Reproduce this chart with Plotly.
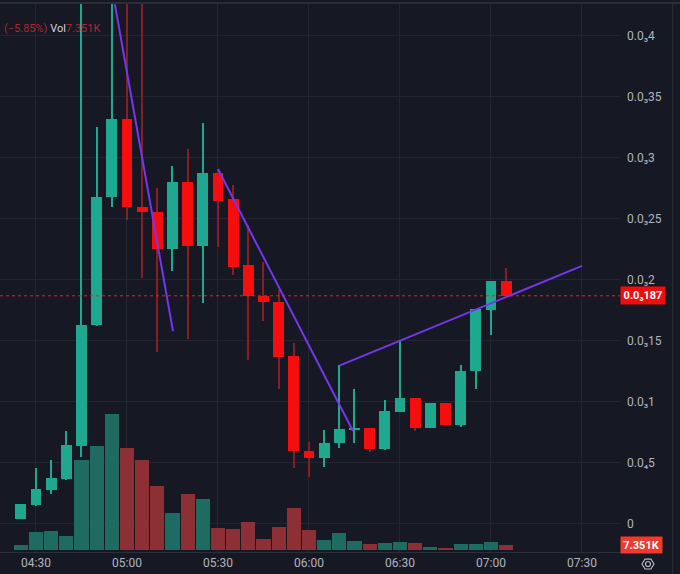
import numpy as np
import plotly.graph_objects as go

# 5 minute candles, prices in units of 0.00001
day = '2024-01-01 '
times = ['04:25', '04:30', '04:35', '04:40', '04:45', '04:50', '04:55', '05:00', '05:05',
         '05:10', '05:15', '05:20', '05:25', '05:30', '05:35', '05:40', '05:45', '05:50',
         '05:55', '06:00', '06:05', '06:10', '06:15', '06:20', '06:25', '06:30', '06:35',
         '06:40', '06:45', '06:50', '06:55', '07:00', '07:05']
opens = [0.41, 1.56, 2.79, 3.69, 6.39, 16.3, 26.8, 33.2, 26.0, 25.6, 22.5, 28.0, 22.8,
         28.8, 26.6, 21.2, 18.7, 18.2, 13.8, 6.0, 5.4, 6.6, 7.7, 7.9, 6.15, 9.2, 10.3,
         7.9, 9.9, 8.1, 12.5, 17.5, 19.9]
highs = [1.64, 4.59, 5.25, 7.62, 44.0, 32.5, 44.0, 44.0, 44.0, 27.5, 29.3, 30.7, 32.9,
         29.1, 27.8, 24.5, 21.5, 19.2, 14.8, 6.7, 7.7, 13.0, 11.1, 7.9, 10.2, 15.0, 10.3,
         9.9, 9.9, 13.0, 17.6, 19.9, 21.0]
lows = [0.41, 1.5, 2.46, 3.6, 5.49, 16.2, 26.0, 24.9, 20.2, 14.1, 20.7, 15.2, 18.1,
        22.7, 20.4, 13.4, 16.6, 11.1, 4.6, 3.85, 4.7, 6.2, 6.6, 5.9, 6.07, 9.2, 7.6,
        7.9, 8.1, 7.95, 11.1, 15.5, 18.7]
closes = [1.64, 2.87, 3.77, 6.48, 16.31, 26.8, 33.2, 26.0, 25.6, 22.5, 28.0, 22.8, 28.8,
          26.5, 21.1, 18.7, 18.2, 13.7, 6.0, 5.4, 6.6, 7.8, 7.9, 6.15, 9.26, 10.3, 7.9,
          9.9, 8.1, 12.5, 17.6, 19.9, 18.7]
volumes_k = [7.4, 26.5, 27.9, 20.6, 132, 153, 200, 150, 132, 94, 54, 82, 75, 32, 31, 41,
             16, 34, 62, 29, 15, 25, 13, 8.8, 10.3, 11.8, 10.3, 4.4, 2.9, 8.8, 8.8, 11.8, 7.351]

# drawn trend lines: (start time, start price, end time, end price)
trend_lines = [('04:56:00', 42.6, '05:15:10', 15.8),
               ('05:30:00', 29.1, '06:14:30', 7.62),
               ('06:10:13', 13.0, '07:30:00', 21.15)]

price_ticks = [0, 5, 10, 15, 20, 25, 30, 35, 40]
price_tick_text = ['0', '0.0₄5', '0.0₃1', '0.0₃15', '0.0₃2', '0.0₃25', '0.0₃3', '0.0₃35', '0.0₃4']
time_ticks = ['04:30', '05:00', '05:30', '06:00', '06:30', '07:00', '07:30']
last_price = 18.7
last_volume = 7.351

scale = 1e-5
GREEN = '#1fa890'
RED = '#f60d0d'
BG = '#161823'
GRID = '#232632'
TXT = '#b2b5be'

x = [day + t for t in times]
o = np.array(opens) * scale
h = np.array(highs) * scale
l = np.array(lows) * scale
c = np.array(closes) * scale
up = c >= o

fig = go.Figure()

# volume (base axis, drawn underneath)
fig.add_trace(go.Bar(x=x, y=volumes_k, width=280000, yaxis='y',
                     marker=dict(color=['#1d6b61' if u else '#8c3036' for u in up], line_width=0),
                     hoverinfo='skip'))

# wicks as very thin bars (about one pixel wide)
fig.add_trace(go.Bar(x=x, y=h - l, base=l, width=20000, yaxis='y2',
                     marker=dict(color=[GREEN if u else '#8a1c22' for u in up], line_width=0),
                     hoverinfo='skip'))

# bodies
fig.add_trace(go.Bar(x=x, y=np.abs(c - o), base=np.minimum(o, c), width=215000, yaxis='y2',
                     marker=dict(color=[GREEN if u else RED for u in up], line_width=0),
                     hoverinfo='skip'))

for t0, p0, t1, p1 in trend_lines:
    fig.add_trace(go.Scatter(x=[day + t0, day + t1], y=[p0 * scale, p1 * scale], mode='lines',
                             yaxis='y2', line=dict(color='#7436ee', width=2), hoverinfo='skip'))

# last price line
fig.add_shape(type='line', xref='paper', x0=0, x1=1, yref='y2',
              y0=last_price * scale, y1=last_price * scale,
              line=dict(color='#d62a2a', width=1, dash='dot'))

fig.add_annotation(xref='paper', x=1.0, xanchor='left', yref='y2', y=last_price * scale,
                   text='<b>0.0₃187</b>', showarrow=False, bgcolor='#f20d0d',
                   font=dict(color='white', size=11), width=42, height=15)
fig.add_annotation(xref='paper', x=1.0, xanchor='left', yref='y', y=last_volume,
                   text='<b>7.351K</b>', showarrow=False, bgcolor='#f2392b',
                   font=dict(color='white', size=11), width=39, height=14)

# legend text, top left
fig.add_annotation(xref='paper', yref='paper', x=0.003, y=0.969, xanchor='left',
                   showarrow=False, font=dict(size=11),
                   text="<span style='color:#b32630'>(−5.85%)</span> "
                        "<span style='color:#d1d4dc'>Vol</span>"
                        "<span style='color:#b32630'>7.351K</span>")

# borders and settings icon
fig.add_shape(type='line', xref='paper', yref='paper', x0=0, x1=1.1, y0=1, y1=1,
              line=dict(color='#2a2e39', width=2))
fig.add_shape(type='line', xref='paper', yref='paper', x0=1.085, x1=1.085, y0=-0.05, y1=1,
              line=dict(color='#2a2e39', width=1))
hx = [642, 645, 651, 654, 651, 645]
hy = [564, 559, 559, 564, 569, 569]
path = 'M ' + ' L '.join(f'{a / 620:.4f},{(552 - b) / 549:.4f}' for a, b in zip(hx, hy)) + ' Z'
fig.add_shape(type='path', xref='paper', yref='paper', path=path,
              line=dict(color=TXT, width=1.2))
fig.add_shape(type='circle', xref='paper', yref='paper',
              x0=645.5 / 620, x1=650.5 / 620, y0=(552 - 566.5) / 549, y1=(552 - 561.5) / 549,
              line=dict(color=TXT, width=1.2))

fig.update_layout(
    width=680, height=574,
    margin=dict(l=0, r=60, t=3, b=22),
    paper_bgcolor=BG, plot_bgcolor=BG,
    showlegend=False, bargap=0, barmode='overlay',
    font=dict(family='Roboto', color=TXT, size=12),
    xaxis=dict(type='date', range=[day + '04:18:08', day + '07:42:32'],
               tickvals=[day + t for t in time_ticks], ticktext=time_ticks,
               showgrid=True, gridcolor=GRID, gridwidth=1,
               showline=True, linecolor='#2a2e39', linewidth=1,
               zeroline=False, ticks='', fixedrange=True),
    yaxis=dict(range=[-2.94, 804], visible=False, showgrid=False, zeroline=False),
    yaxis2=dict(overlaying='y', side='right', range=[-2.3 * scale, 42.7 * scale],
                tickvals=[v * scale for v in price_ticks], ticktext=price_tick_text,
                showgrid=True, gridcolor=GRID, gridwidth=1, zeroline=False,
                ticks='', ticklabelstandoff=6),
)

# page has a default body margin; drop it so the chart fills the window
fig.write_html('out.html', config={'displayModeBar': False},
               post_script="document.body.style.margin='0';document.body.style.background='#161823';")
